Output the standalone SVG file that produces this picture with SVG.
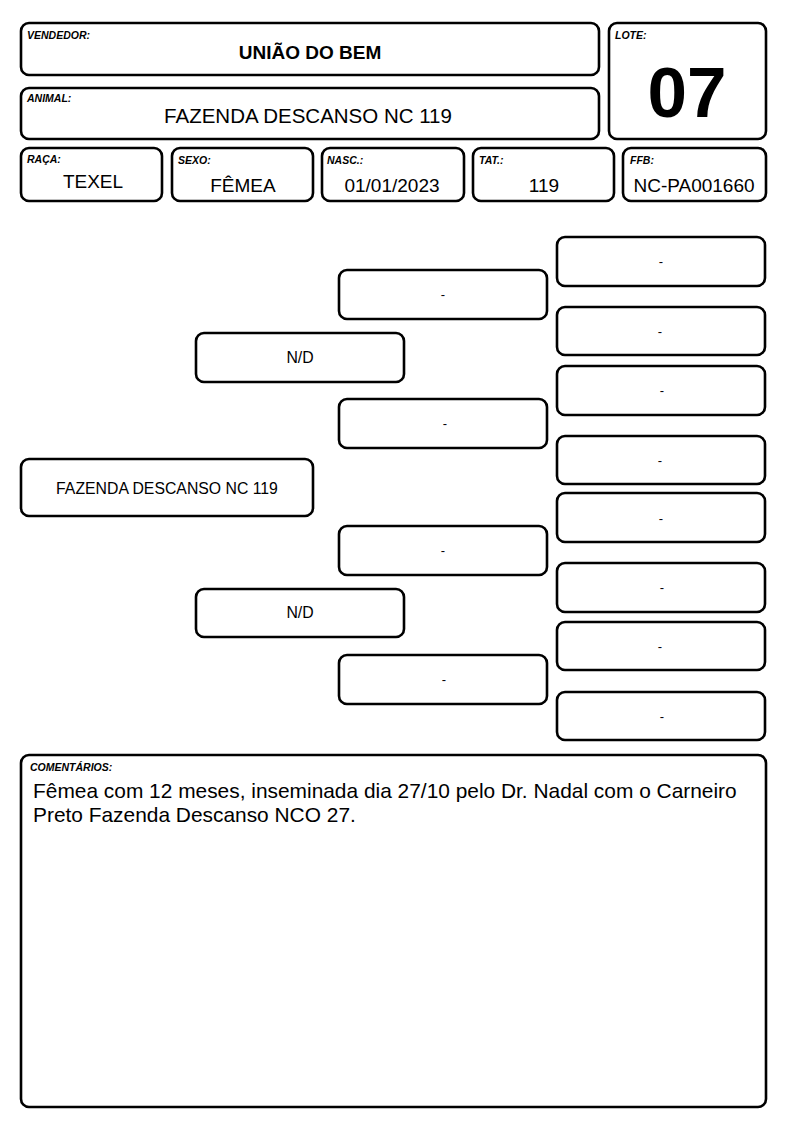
<svg xmlns="http://www.w3.org/2000/svg" width="794" height="1123" viewBox="0 0 794 1123">
<style>
  .box { fill: #fff; stroke: #000; stroke-width: 2.6; }
  .lbl { font-family: "Liberation Sans", Arial, sans-serif; font-size: 10.5px; font-weight: bold; font-style: italic; fill: #000; }
  .val { font-family: "Liberation Sans", Arial, sans-serif; font-size: 19px; fill: #000; text-anchor: middle; }
  .ped { font-family: "Liberation Sans", Arial, sans-serif; font-size: 15.8px; fill: #000; text-anchor: middle; }
  .dash { font-family: "Liberation Sans", Arial, sans-serif; font-size: 13px; fill: #000; text-anchor: middle; }
  .cmt { font-family: "Liberation Sans", Arial, sans-serif; font-size: 20.9px; fill: #000; }
</style>
<rect width="794" height="1123" fill="#fff"/>

<g id="vendedor">
  <rect class="box" x="21" y="23" width="578" height="52" rx="8"/>
  <text class="lbl" x="27" y="39">VENDEDOR:</text>
  <text x="310" y="59" font-family="Liberation Sans, Arial, sans-serif" font-size="19" font-weight="bold" text-anchor="middle">UNIÃO DO BEM</text>
</g>
<g id="animal">
  <rect class="box" x="21" y="88" width="578" height="51" rx="8"/>
  <text class="lbl" x="27" y="102">ANIMAL:</text>
  <text x="308" y="123" font-family="Liberation Sans, Arial, sans-serif" font-size="20.5" text-anchor="middle">FAZENDA DESCANSO NC 119</text>
</g>
<g id="lote">
  <rect class="box" x="609" y="23" width="157" height="116" rx="8"/>
  <text class="lbl" x="615" y="39">LOTE:</text>
  <text x="687" y="117" font-family="Liberation Sans, Arial, sans-serif" font-size="71" font-weight="bold" text-anchor="middle">07</text>
</g>
<g id="raca">
  <rect class="box" x="21" y="148" width="141" height="53" rx="8"/>
  <text class="lbl" x="27" y="163">RAÇA:</text>
  <text class="val" x="93" y="188" font-size="16">TEXEL</text>
</g>
<g id="sexo">
  <rect class="box" x="172" y="148" width="141" height="53" rx="8"/>
  <text class="lbl" x="178" y="164">SEXO:</text>
  <text class="val" x="243" y="192">FÊMEA</text>
</g>
<g id="nasc">
  <rect class="box" x="322" y="148" width="142" height="53" rx="8"/>
  <text class="lbl" x="327" y="164">NASC.:</text>
  <text class="val" x="392" y="192">01/01/2023</text>
</g>
<g id="tat">
  <rect class="box" x="473" y="148" width="141" height="53" rx="8"/>
  <text class="lbl" x="479" y="164">TAT.:</text>
  <text class="val" x="544" y="192">119</text>
</g>
<g id="ffb">
  <rect class="box" x="623" y="148" width="143" height="53" rx="8"/>
  <text class="lbl" x="630" y="164">FFB:</text>
  <text class="val" x="694" y="192">NC-PA001660</text>
</g>

<g id="connectors"></g>

<g id="animal-main">
  <rect class="box" x="21" y="459" width="292" height="57" rx="8"/>
  <text class="ped" x="167" y="494">FAZENDA DESCANSO NC 119</text>
</g>
<g id="pai">
  <rect class="box" x="196" y="333" width="208" height="49" rx="8"/>
  <text class="ped" x="300" y="363">N/D</text>
</g>
<g id="mae">
  <rect class="box" x="196" y="589" width="208" height="48" rx="8"/>
  <text class="ped" x="300" y="618">N/D</text>
</g>

<g id="avo1">
  <rect class="box" x="339" y="270" width="208" height="49" rx="8"/>
  <text class="dash" x="443" y="299">-</text>
</g>
<g id="avo2">
  <rect class="box" x="339" y="399" width="208" height="49" rx="8"/>
  <text class="dash" x="445" y="428">-</text>
</g>
<g id="avo3">
  <rect class="box" x="339" y="526" width="208" height="49" rx="8"/>
  <text class="dash" x="443" y="555">-</text>
</g>
<g id="avo4">
  <rect class="box" x="339" y="655" width="208" height="49" rx="8"/>
  <text class="dash" x="444" y="684">-</text>
</g>

<g id="bis1">
  <rect class="box" x="557" y="237" width="208" height="49" rx="8"/>
  <text class="dash" x="661" y="266">-</text>
</g>
<g id="bis2">
  <rect class="box" x="557" y="307" width="208" height="48" rx="8"/>
  <text class="dash" x="660" y="336">-</text>
</g>
<g id="bis3">
  <rect class="box" x="557" y="366" width="208" height="49" rx="8"/>
  <text class="dash" x="662" y="395">-</text>
</g>
<g id="bis4">
  <rect class="box" x="557" y="436" width="208" height="48" rx="8"/>
  <text class="dash" x="660" y="465">-</text>
</g>
<g id="bis5">
  <rect class="box" x="557" y="493" width="208" height="49" rx="8"/>
  <text class="dash" x="661" y="523">-</text>
</g>
<g id="bis6">
  <rect class="box" x="557" y="563" width="208" height="49" rx="8"/>
  <text class="dash" x="662" y="592">-</text>
</g>
<g id="bis7">
  <rect class="box" x="557" y="622" width="208" height="48" rx="8"/>
  <text class="dash" x="660" y="651">-</text>
</g>
<g id="bis8">
  <rect class="box" x="557" y="692" width="208" height="48" rx="8"/>
  <text class="dash" x="662" y="721">-</text>
</g>

<g id="comentarios">
  <rect class="box" x="21" y="755" width="745" height="352" rx="8"/>
  <text class="lbl" x="30" y="771">COMENTÁRIOS:</text>
  <text class="cmt" x="33" y="798">Fêmea com 12 meses, inseminada dia 27/10 pelo Dr. Nadal com o Carneiro</text>
  <text class="cmt" x="33" y="822">Preto Fazenda Descanso NCO 27.</text>
</g>
</svg>
